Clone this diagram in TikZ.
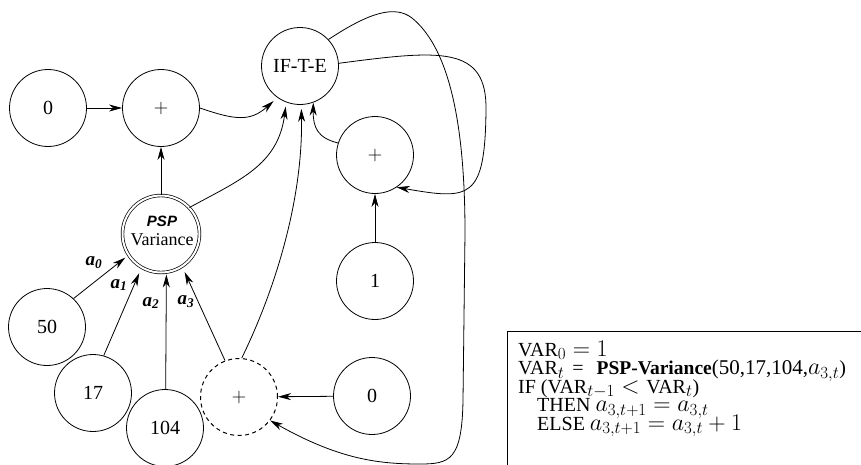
\RequirePackage{fix-cm}
\documentclass[tikz,border=0pt]{standalone}
\usepackage[no-math]{fontspec}
\setmainfont{Liberation Serif}
\newfontfamily\pspfont{Liberation Sans}
\DeclareMathSizes{19.99}{24}{17}{12}
\usetikzlibrary{arrows.meta}
\begin{document}
\begin{tikzpicture}[x=1pt,y=-1pt,
  vtx/.style={circle,draw,line width=0.8pt,minimum size=77pt,inner sep=0pt,font=\fontsize{20}{20}\selectfont},
  arr/.style={line width=0.8pt,-{Stealth[length=13pt,width=7pt,inset=4pt]}},
  lab/.style={inner sep=0pt,font=\fontsize{19}{19}\selectfont\bfseries\itshape},
  codeline/.style={anchor=base west,inner sep=0pt,text height=13pt,text depth=2pt,font=\fontsize{19.99}{20}\selectfont},
  codebox/.style={draw,line width=1.4pt,anchor=north west,minimum width=380pt,minimum height=160pt,inner sep=0pt}]
\useasboundingbox (0,0) rectangle (861,464);

% nodes
\node[vtx] (z0) at (48,108) {0};
\node[vtx] (plus1) at (161,108) {$+$};
\node[vtx] (ite) at (300,66) {IF-T-E};
\node[vtx] (plus2) at (375,155) {$+$};
\node[circle,draw,double,double distance=2pt,line width=0.7pt,minimum size=77pt,inner sep=0pt] (psp) at (161,234) {};
\node[align=center,inner sep=0pt,font=\fontsize{18}{19}\selectfont] (psptext) at (162,231)
  {{\pspfont\fontsize{15}{15}\selectfont\bfseries\itshape PSP}\\Variance};
\node[vtx] (one) at (375,281) {1};
\node[vtx] (n50) at (47,327) {50};
\node[vtx] (n17) at (93,393) {17};
\node[vtx] (n104) at (165,428) {104};
\node[vtx,dash pattern=on 4pt off 3.5pt,line width=1pt] (dplus) at (239,397) {$+$};
\node[vtx] (z1) at (372,396) {0};

% edges
\draw[arr] (z0) -- (plus1);
\draw[arr] (plus1.east) .. controls (235,120) and (250,122) .. ([shift={(-3,4)}]ite.233);
\draw[arr] (psp) -- (plus1);
\draw[arr] (psp.43) .. controls (240,180) and (278,165) .. ([shift={(-1,4)}]ite.250);
\draw[arr] (dplus.86) .. controls (275,290) and (303,200) .. ([shift={(0,4)}]ite.272);
\draw[arr] (plus2.162) .. controls (318,138) and (313,128) .. (ite.290);
\draw[arr] (one) -- (plus2);
\draw[arr] (ite.4) .. controls (440,50) and (487,45) .. (486,110)
  .. controls (485,200) and (470,200) .. (plus2.-56);
\draw[arr] (ite.43) .. controls (370,12) and (395,5) .. (412,18)
  .. controls (445,45) and (465,110) .. (465,233) -- (463,400)
  .. controls (462,460) and (450,464) .. (420,464)
  .. controls (380,464) and (340,460) .. (dplus.-37);
\draw[arr] (z1) -- (dplus);
\draw[arr,shorten >=4pt] (n50.47) -- (psp.213);
\draw[arr,shorten >=6pt] (n17.74) -- (psp.240);
\draw[arr,shorten >=2pt] (n104.89) -- (psp.-82);
\draw[arr,shorten >=6pt] (dplus.111) -- (psp.-57);

% edge labels
\node[lab] (la0) at (94,263) {a\textsubscript{0}};
\node[lab] (la1) at (119,285) {a\textsubscript{1}};
\node[lab] (la2) at (151,303) {a\textsubscript{2}};
\node[lab] (la3) at (186,302) {a\textsubscript{3}};

% code box
\node[codebox] (box) at (507,331) {};
\node[codeline] (l1) at (518,356) {VAR$_0 = 1$};
\node[codeline] (l2) at (518,374.5) {VAR$_t$\hspace{8pt}=\hspace{13pt}{\fontsize{19.5}{20}\selectfont\bfseries PSP-Variance}{\fontsize{21}{20}\selectfont(50,17,104,}$a_{3,t}$)};
\node[codeline] (l3) at (518,393) {IF (VAR$_{t-1} < \mbox{VAR}_t$)};
\node[codeline] (l4) at (537,411.5) {THEN $a_{3,t+1} = a_{3,t}$};
\node[codeline] (l5) at (537,430) {ELSE $a_{3,t+1} = a_{3,t} + 1$};
\end{tikzpicture}
\end{document}
